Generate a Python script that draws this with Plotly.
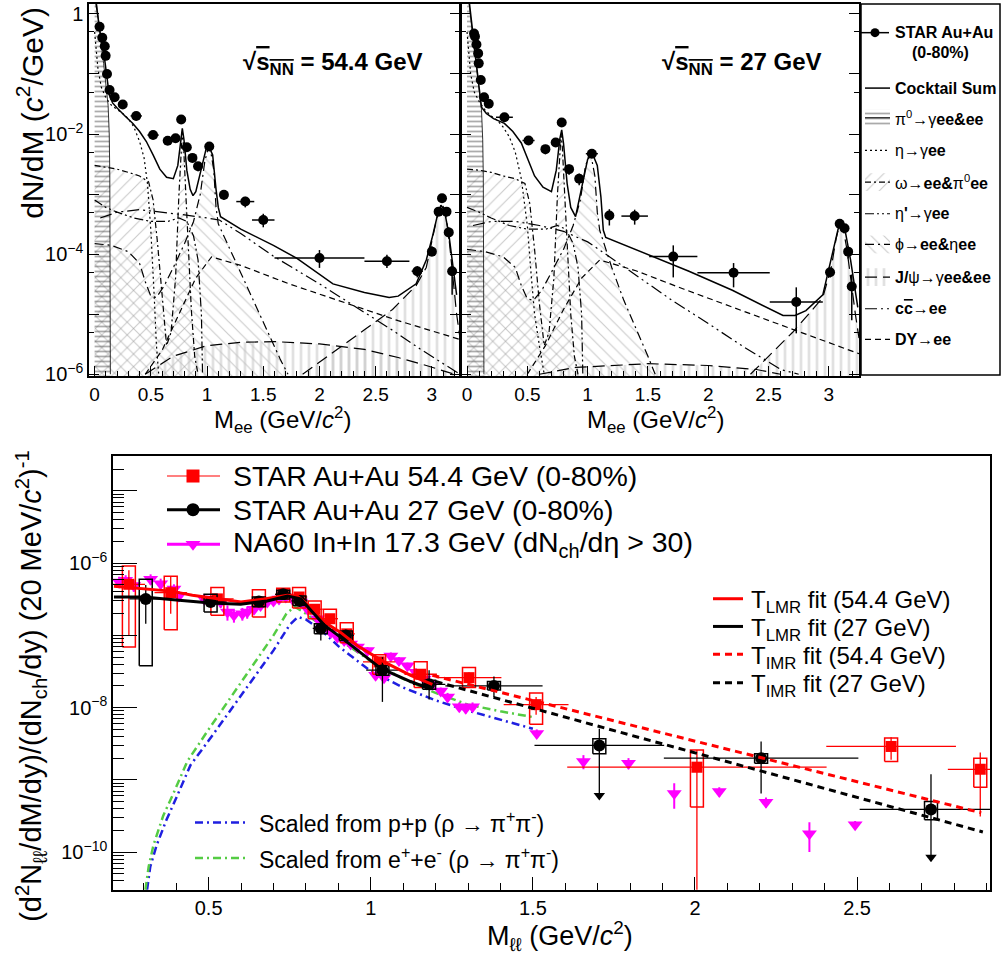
import plotly.graph_objects as go

FONT = "Liberation Sans, Arial, sans-serif"
W, H = 1002, 964

# ======================= TOP PANELS: STAR Au+Au data =======================
m54 = [0.044, 0.068, 0.090, 0.098, 0.110, 0.133, 0.178, 0.25, 0.37, 0.52, 0.65, 0.72, 0.77, 0.82, 0.87, 0.92, 1.02, 1.15, 1.34, 1.50, 2.00, 2.60, 2.87, 3.00, 3.06, 3.09, 3.13, 3.15, 3.18]
y54 = [0.61, 0.40, 0.29, 0.20, 0.10, 0.054, 0.041, 0.031, 0.020, 0.0096, 0.0077, 0.0085, 0.0174, 0.0060, 0.0040, 0.0029, 0.0062, 0.00097, 0.00075, 0.00037, 8.6e-5, 7.6e-5, 5.2e-5, 1.1e-4, 5.1e-4, 8.5e-4, 5.1e-4, 2.3e-4, 5.2e-5]
y54_hi = [0.68, 0.45, 0.33, 0.23, 0.115, 0.062, 0.047, 0.035, 0.023, 0.011, 0.0088, 0.0097, 0.0195, 0.0069, 0.0046, 0.0034, 0.0070, 0.00115, 0.00090, 0.00047, 1.17e-4, 9.8e-5, 6.3e-5, 1.35e-4, 5.8e-4, 9.6e-4, 5.8e-4, 2.8e-4, 6.3e-5]
y54_lo = [0.54, 0.35, 0.25, 0.17, 0.087, 0.046, 0.035, 0.027, 0.017, 0.0082, 0.0066, 0.0073, 0.0155, 0.0051, 0.0034, 0.0024, 0.0054, 0.0008, 0.0006, 0.00028, 5.9e-5, 5.9e-5, 4.1e-5, 9.3e-5, 4.4e-4, 7.5e-4, 4.4e-4, 1.8e-4, 2.1e-5]
xerr54 = [0.005, 0.005, 0.005, 0.005, 0.005, 0.01, 0.02, 0.03, 0.05, 0.05, 0.03, 0.02, 0.015, 0.015, 0.02, 0.02, 0.04, 0.03, 0.08, 0.10, 0.40, 0.20, 0.05, 0.03, 0.015, 0.015, 0.015, 0.015, 0.02]

m27 = [0.058, 0.066, 0.078, 0.092, 0.097, 0.114, 0.141, 0.18, 0.31, 0.51, 0.65, 0.735, 0.785, 0.846, 0.93, 1.035, 1.18, 1.39, 1.71, 2.21, 2.73, 3.01, 3.09, 3.13, 3.16, 3.19]
y27 = [0.47, 0.42, 0.31, 0.22, 0.15, 0.079, 0.041, 0.032, 0.019, 0.0078, 0.0056, 0.0072, 0.0155, 0.0026, 0.0018, 0.0047, 4.4e-4, 4.3e-4, 9.1e-5, 4.9e-5, 1.6e-5, 5.0e-5, 3.2e-4, 2.7e-4, 1.1e-4, 2.9e-5]
y27_hi = [0.53, 0.47, 0.35, 0.25, 0.17, 0.089, 0.046, 0.036, 0.022, 0.0090, 0.0066, 0.0083, 0.0175, 0.0031, 0.0022, 0.0054, 5.6e-4, 5.5e-4, 1.4e-4, 7.1e-5, 2.8e-5, 5.9e-5, 3.7e-4, 3.1e-4, 1.35e-4, 4.6e-5]
y27_lo = [0.42, 0.37, 0.27, 0.19, 0.13, 0.069, 0.036, 0.028, 0.016, 0.0066, 0.0046, 0.0061, 0.0135, 0.0021, 0.0014, 0.0040, 3.0e-4, 3.1e-4, 4.1e-5, 2.8e-5, 4.8e-6, 4.1e-5, 2.7e-4, 2.3e-4, 8.5e-5, 7.9e-6]
xerr27 = [0.005, 0.005, 0.005, 0.005, 0.005, 0.01, 0.01, 0.02, 0.07, 0.05, 0.02, 0.02, 0.015, 0.015, 0.02, 0.05, 0.03, 0.11, 0.20, 0.30, 0.22, 0.02, 0.015, 0.015, 0.015, 0.015]

# Cocktail sums
cs54_m = [0.01, 0.03, 0.06, 0.09, 0.11, 0.13, 0.16, 0.20, 0.27, 0.34, 0.40, 0.46, 0.52, 0.58, 0.64, 0.70, 0.74, 0.765, 0.78, 0.795, 0.82, 0.85, 0.875, 0.90, 0.95, 0.99, 1.02, 1.05, 1.08, 1.10, 1.12, 1.30, 1.59, 1.80, 2.12, 2.40, 2.62, 2.70, 2.86, 2.95, 3.00, 3.05, 3.08, 3.11, 3.15, 3.19, 3.22]
cs54_y = [1.6, 0.8, 0.35, 0.17, 0.09, 0.045, 0.033, 0.027, 0.020, 0.015, 0.011, 0.0075, 0.0045, 0.0026, 0.0019, 0.0018, 0.003, 0.008, 0.0124, 0.008, 0.0025, 0.0012, 0.00094, 0.0011, 0.0028, 0.0055, 0.006, 0.0045, 0.0012, 0.0006, 0.00042, 0.00026, 0.00014, 8.5e-5, 3.2e-5, 2.3e-5, 1.9e-5, 2.0e-5, 3.2e-5, 8e-5, 1.8e-4, 4.5e-4, 6.5e-4, 5.5e-4, 2.2e-4, 5e-5, 2.1e-5]
cs27_m = [0.02, 0.04, 0.07, 0.10, 0.12, 0.16, 0.22, 0.31, 0.38, 0.45, 0.51, 0.56, 0.63, 0.70, 0.74, 0.77, 0.785, 0.80, 0.83, 0.86, 0.90, 0.95, 1.00, 1.04, 1.08, 1.11, 1.13, 1.15, 1.40, 1.84, 2.20, 2.62, 2.72, 2.81, 2.95, 3.03, 3.09, 3.13, 3.18, 3.24]
cs27_y = [1.5, 0.6, 0.2, 0.06, 0.028, 0.022, 0.018, 0.015, 0.011, 0.0071, 0.0035, 0.002, 0.0013, 0.0011, 0.0025, 0.0085, 0.0117, 0.007, 0.0015, 0.0006, 0.00042, 0.0012, 0.0038, 0.0047, 0.003, 0.0009, 0.00025, 0.00019, 1.2e-4, 5.2e-5, 2.5e-5, 9.5e-6, 9.5e-6, 1.15e-5, 2.1e-5, 1.1e-4, 3.4e-4, 2.8e-4, 8e-5, 1.3e-5]

# Cocktail components, 54.4 GeV
pi0_54_m = [0.0, 0.02, 0.04, 0.06, 0.08, 0.10, 0.12, 0.13, 0.135, 0.14]
pi0_54_y = [3.0, 1.3, 0.6, 0.3, 0.15, 0.07, 0.03, 0.01, 0.002, 1e-6]
eta_54_m = [0.0, 0.03, 0.06, 0.10, 0.15, 0.20, 0.25, 0.30, 0.35, 0.40, 0.44, 0.47, 0.50, 0.53, 0.55, 0.57]
eta_54_y = [0.5, 0.12, 0.06, 0.04, 0.03, 0.026, 0.022, 0.018, 0.013, 0.0075, 0.004, 0.0015, 2.5e-4, 2e-5, 3e-6, 1e-6]
omega_54_m = [0.0, 0.10, 0.20, 0.30, 0.40, 0.48, 0.52, 0.56, 0.60, 0.64, 0.68, 0.72, 0.75, 0.77, 0.78, 0.79, 0.81, 0.83, 0.86, 0.89, 0.92]
omega_54_y = [3e-3, 2.8e-3, 2.6e-3, 2.3e-3, 2.0e-3, 1.6e-3, 8e-4, 1.5e-4, 2e-5, 3e-6, 5e-6, 4e-5, 1e-3, 7e-3, 1.1e-2, 7e-3, 1.2e-3, 1.5e-4, 1.2e-5, 2e-6, 1e-6]
etap_54_m = [0.0, 0.10, 0.20, 0.35, 0.50, 0.65, 0.75, 0.82, 0.88, 0.92, 0.95, 0.96]
etap_54_y = [8e-4, 6e-4, 5e-4, 4e-4, 3.5e-4, 3.5e-4, 4e-4, 3.5e-4, 2e-4, 8e-5, 1e-5, 1e-6]
phi_54_m = [0.0, 0.15, 0.30, 0.40, 0.45, 0.50, 0.55, 0.62, 0.70, 0.80, 0.88, 0.94, 0.98, 1.01, 1.02, 1.03, 1.06, 1.08, 1.10, 1.20, 1.35, 1.50, 1.65, 1.72]
phi_54_y = [1.5e-4, 1.4e-4, 1.1e-4, 7e-5, 3.5e-5, 2e-5, 1.9e-5, 3e-5, 6e-5, 1.5e-4, 3.5e-4, 1e-3, 3.5e-3, 5.8e-3, 6e-3, 5.5e-3, 2.5e-3, 6e-4, 3.2e-4, 1.25e-4, 3e-5, 7.4e-6, 1.8e-6, 1e-6]
jpsi_54_m = [1.85, 2.10, 2.40, 2.65, 2.86, 2.95, 3.00, 3.05, 3.09, 3.12, 3.15, 3.18, 3.22, 3.25]
jpsi_54_y = [1e-6, 2.2e-6, 5.5e-6, 1.2e-5, 3e-5, 6e-5, 1.6e-4, 4.5e-4, 7e-4, 5e-4, 2e-4, 5e-5, 1e-5, 4e-6]
jrad_54_m = [0.45, 0.70, 1.00, 1.30, 1.60, 2.00, 2.40, 2.70, 2.95, 3.20]
jrad_54_y = [1e-6, 2e-6, 3e-6, 3.4e-6, 3.5e-6, 3.2e-6, 2.6e-6, 1.9e-6, 1.4e-6, 1e-6]
cc_54_m = [0.05, 0.20, 0.40, 0.60, 0.80, 1.00, 1.11, 1.30, 1.60, 2.00, 2.30, 2.65, 2.90, 3.10, 3.25]
cc_54_y = [4e-4, 5e-4, 5.5e-4, 5e-4, 4.5e-4, 4e-4, 3.7e-4, 2.2e-4, 9e-5, 3.2e-5, 1.4e-5, 5.4e-6, 2.6e-6, 1.5e-6, 1e-6]
dy_54_m = [0.45, 0.60, 0.75, 0.90, 1.04, 1.30, 1.73, 2.20, 2.70, 3.25]
dy_54_y = [1e-6, 2.5e-6, 1e-5, 4e-5, 9e-5, 6.5e-5, 3.2e-5, 1.6e-5, 7.8e-6, 3.8e-6]

# Cocktail components, 27 GeV
pi0_27_m = [0.0, 0.02, 0.04, 0.06, 0.08, 0.10, 0.12, 0.13, 0.135, 0.14]
pi0_27_y = [3.0, 1.2, 0.5, 0.25, 0.12, 0.06, 0.025, 0.008, 0.002, 1e-6]
eta_27_m = [0.0, 0.03, 0.06, 0.10, 0.15, 0.20, 0.25, 0.30, 0.35, 0.40, 0.45, 0.50, 0.53, 0.56, 0.60, 0.64]
eta_27_y = [0.5, 0.1, 0.05, 0.035, 0.025, 0.02, 0.017, 0.013, 0.009, 0.005, 0.0018, 3e-4, 5e-5, 1e-5, 3e-6, 1e-6]
omega_27_m = [0.0, 0.10, 0.20, 0.30, 0.40, 0.48, 0.52, 0.56, 0.60, 0.64, 0.68, 0.72, 0.75, 0.77, 0.78, 0.79, 0.81, 0.83, 0.86, 0.89, 0.92]
omega_27_y = [2.6e-3, 2.5e-3, 2.3e-3, 2.0e-3, 1.8e-3, 1.5e-3, 7e-4, 1.2e-4, 1.5e-5, 3e-6, 5e-6, 4e-5, 1e-3, 6e-3, 1.0e-2, 6e-3, 1e-3, 1.2e-4, 1e-5, 2e-6, 1e-6]
etap_27_m = [0.0, 0.10, 0.20, 0.35, 0.50, 0.65, 0.75, 0.82, 0.88, 0.92, 0.95, 0.96]
etap_27_y = [6e-4, 5e-4, 4e-4, 3e-4, 2.6e-4, 2.6e-4, 3e-4, 2.6e-4, 1.5e-4, 6e-5, 1e-5, 1e-6]
phi_27_m = [0.0, 0.15, 0.30, 0.40, 0.45, 0.50, 0.55, 0.62, 0.70, 0.80, 0.88, 0.94, 0.98, 1.01, 1.02, 1.03, 1.06, 1.08, 1.10, 1.20, 1.30, 1.40, 1.50, 1.56]
phi_27_y = [1.2e-4, 1.1e-4, 9e-5, 6e-5, 3e-5, 1.8e-5, 1.7e-5, 2.5e-5, 5e-5, 1.2e-4, 3e-4, 8e-4, 2.8e-3, 4.4e-3, 4.6e-3, 4.2e-3, 2e-3, 5e-4, 2.5e-4, 6e-5, 1.7e-5, 6e-6, 2e-6, 1e-6]
jpsi_27_m = [2.35, 2.50, 2.70, 2.85, 2.95, 3.02, 3.06, 3.09, 3.12, 3.15, 3.18, 3.22, 3.25]
jpsi_27_y = [1e-6, 2e-6, 5e-6, 1.1e-5, 1.9e-5, 6e-5, 1.8e-4, 3.2e-4, 2.6e-4, 1.2e-4, 4e-5, 1e-5, 4e-6]
jrad_27_m = [0.60, 0.90, 1.50, 2.00, 2.40, 2.60]
jrad_27_y = [1e-6, 1.3e-6, 1.5e-6, 1.4e-6, 1.2e-6, 1e-6]
cc_27_m = [0.05, 0.20, 0.40, 0.60, 0.80, 1.00, 1.12, 1.40, 1.70, 2.00, 2.30, 2.48, 2.60, 2.75]
cc_27_y = [3e-4, 3.5e-4, 3.5e-4, 3e-4, 2.4e-4, 1.6e-4, 1.1e-4, 4.5e-5, 1.7e-5, 7e-6, 2.8e-6, 1.7e-6, 1.2e-6, 1e-6]
dy_27_m = [0.50, 0.65, 0.80, 0.95, 1.10, 1.40, 1.80, 2.20, 2.70, 3.25]
dy_27_y = [1e-6, 3e-6, 1.2e-5, 4e-5, 8e-5, 5.3e-5, 2.6e-5, 1.3e-5, 5.6e-6, 2.2e-6]

# ======================= BOTTOM PANEL =======================
r_m = [0.254, 0.383, 0.527, 0.655, 0.730, 0.779, 0.827, 0.874, 0.926, 1.026, 1.154, 1.303, 1.510, 2.006, 2.605, 2.880]
r_y = [5.1e-7, 3.9e-7, 3.2e-7, 2.9e-7, 3.7e-7, 3.4e-7, 2.3e-7, 1.7e-7, 1.05e-7, 4.3e-8, 2.9e-8, 2.6e-8, 1.1e-8, 1.5e-9, 2.9e-9, 1.4e-9]
r_stat_hi = [8.0e-7, 6.6e-7, 3.5e-7, 3.2e-7, 4.0e-7, 3.7e-7, 2.6e-7, 1.9e-7, 1.2e-7, 5.0e-8, 3.4e-8, 3.1e-8, 1.4e-8, 2.6e-9, 3.9e-9, 2.4e-9]
r_stat_lo = [1.0e-7, 2.0e-7, 2.9e-7, 2.6e-7, 3.4e-7, 3.1e-7, 2.0e-7, 1.5e-7, 9.0e-8, 3.6e-8, 2.4e-8, 2.1e-8, 8.0e-9, 1e-11, 1.9e-9, 3.1e-10]
r_sys_hi = [9.1e-7, 6.6e-7, 4.6e-7, 4.3e-7, 4.5e-7, 4.6e-7, 3.0e-7, 2.3e-7, 1.5e-7, 5.4e-8, 4.3e-8, 3.6e-8, 1.6e-8, 2.6e-9, 3.8e-9, 2.0e-9]
r_sys_lo = [6.9e-8, 1.2e-7, 1.9e-7, 1.8e-7, 2.9e-7, 2.4e-7, 1.7e-7, 1.2e-7, 7.9e-8, 2.9e-8, 1.9e-8, 1.9e-8, 5.9e-9, 4.2e-10, 1.8e-9, 7.9e-10]
r_xerr = [0.05, 0.05, 0.05, 0.025, 0.025, 0.025, 0.025, 0.025, 0.025, 0.05, 0.05, 0.10, 0.10, 0.40, 0.20, 0.10]

b_m = [0.306, 0.506, 0.655, 0.730, 0.780, 0.846, 0.923, 1.036, 1.180, 1.380, 1.705, 2.204, 2.728]
b_y = [3.2e-7, 2.9e-7, 2.95e-7, 3.7e-7, 3.0e-7, 1.25e-7, 1.0e-7, 3.3e-8, 2.1e-8, 2.0e-8, 3.0e-9, 2.0e-9, 3.9e-10]
b_stat_hi = [5.0e-7, 3.2e-7, 3.2e-7, 4.0e-7, 3.3e-7, 1.5e-7, 1.2e-7, 5.0e-8, 3.3e-8, 2.7e-8, 5.1e-9, 3.4e-9, 1.2e-9]
b_stat_lo = [1.45e-7, 2.6e-7, 2.7e-7, 3.4e-7, 2.7e-7, 8.5e-8, 8.0e-8, 1.2e-8, 1.3e-8, 1.4e-8, 3.0e-9, 6.5e-10, 3.9e-10]
b_sys_hi = [6.0e-7, 3.7e-7, 3.4e-7, 4.2e-7, 3.5e-7, 1.45e-7, 1.15e-7, 3.8e-8, 2.4e-8, 2.3e-8, 3.7e-9, 2.3e-9, 5.0e-10]
b_sys_lo = [3.8e-8, 2.1e-7, 2.5e-7, 3.2e-7, 2.6e-7, 1.05e-7, 8.5e-8, 2.8e-8, 1.8e-8, 1.75e-8, 2.3e-9, 1.7e-9, 2.8e-10]
b_xerr = [0.05, 0.05, 0.025, 0.025, 0.025, 0.025, 0.025, 0.05, 0.05, 0.15, 0.20, 0.30, 0.22]
ul_m = [1.705, 2.728]
ul_tip = [6.1e-10, 8.5e-11]

na60_m = [0.224, 0.244, 0.269, 0.321, 0.352, 0.393, 0.408, 0.486, 0.537, 0.558, 0.578, 0.604, 0.619, 0.640, 0.660, 0.681, 0.700, 0.717, 0.738, 0.758, 0.784, 0.805, 0.836, 0.856, 0.877, 0.897, 0.918, 0.938, 0.959, 0.990, 1.015, 1.041, 1.062, 1.087, 1.113, 1.139, 1.165, 1.190, 1.216, 1.237, 1.273, 1.293, 1.314, 1.512, 1.656, 1.795, 1.936, 2.075, 2.219, 2.353, 2.494]
na60_y = [5.5e-7, 5.8e-7, 4.9e-7, 6.0e-7, 5.2e-7, 4.4e-7, 3.5e-7, 3.2e-7, 2.9e-7, 2.1e-7, 1.9e-7, 2.0e-7, 2.1e-7, 2.3e-7, 2.6e-7, 2.9e-7, 3.0e-7, 3.2e-7, 3.4e-7, 3.2e-7, 2.9e-7, 2.3e-7, 1.7e-7, 1.4e-7, 1.1e-7, 9.4e-8, 8.5e-8, 7.6e-8, 6.9e-8, 6.2e-8, 2.8e-8, 2.6e-8, 5.2e-8, 4.5e-8, 3.8e-8, 3.1e-8, 2.5e-8, 2.1e-8, 1.7e-8, 1.4e-8, 1.03e-8, 9.8e-9, 1.03e-8, 4.4e-9, 1.8e-9, 1.7e-9, 6.5e-10, 6.9e-10, 4.9e-10, 1.8e-10, 2.4e-10]
na60_err = [1.0e-7, 1.0e-7, 0.9e-7, 1.0e-7, 0.9e-7, 0.7e-7, 0.6e-7, 0.5e-7, 0.5e-7, 0.5e-7, 0.4e-7, 0.4e-7, 0.4e-7, 0.3e-7, 0.3e-7, 0.3e-7, 0.3e-7, 0.3e-7, 0.3e-7, 0.3e-7, 0.3e-7, 0.2e-7, 0.2e-7, 1.5e-8, 1.2e-8, 1.0e-8, 0.9e-8, 0.8e-8, 0.8e-8, 0.7e-8, 0.4e-8, 0.4e-8, 0.6e-8, 0.5e-8, 0.4e-8, 0.4e-8, 0.3e-8, 0.3e-8, 0.2e-8, 0.2e-8, 1.5e-9, 1.5e-9, 1.5e-9, 0.6e-9, 0.4e-9, 0.3e-9, 2.5e-10, 1.0e-10, 0.8e-10, 0.8e-10, 0.3e-10]

tl54_m = [0.208, 0.30, 0.383, 0.45, 0.527, 0.60, 0.671, 0.743, 0.774, 0.80, 0.836, 0.87, 0.907, 0.959, 1.041, 1.123, 1.19]
tl54_y = [4.8e-7, 4.4e-7, 4.1e-7, 3.6e-7, 3.2e-7, 2.9e-7, 3.2e-7, 3.6e-7, 3.5e-7, 2.8e-7, 1.9e-7, 1.4e-7, 1.1e-7, 7.2e-8, 4.3e-8, 2.8e-8, 2.1e-8]
tl27_m = [0.208, 0.30, 0.40, 0.506, 0.599, 0.681, 0.743, 0.784, 0.82, 0.856, 0.928, 1.031, 1.123, 1.185]
tl27_y = [3.4e-7, 3.4e-7, 3.1e-7, 2.8e-7, 2.7e-7, 3.0e-7, 3.5e-7, 3.2e-7, 2.1e-7, 1.4e-7, 8e-8, 3.5e-8, 2.3e-8, 1.8e-8]
ti54_m = [1.19, 2.883]
ti54_y = [2.8e-8, 3.5e-10]
ti27_m = [1.20, 2.888]
ti27_y = [2.3e-8, 1.9e-10]

pp_m = [0.31, 0.32, 0.34, 0.37, 0.40, 0.444, 0.50, 0.60, 0.70, 0.75, 0.775, 0.80, 0.85, 0.90, 1.00, 1.10, 1.20, 1.30, 1.40, 1.50]
pp_y = [3.0e-11, 6.3e-11, 1.26e-10, 2.8e-10, 5.6e-10, 1.6e-9, 3.5e-9, 1.5e-8, 6.2e-8, 1.4e-7, 1.8e-7, 1.66e-7, 1.15e-7, 7.1e-8, 3.2e-8, 1.9e-8, 1.26e-8, 9.1e-9, 6.8e-9, 5.1e-9]
ee_m = [0.305, 0.315, 0.33, 0.36, 0.39, 0.434, 0.50, 0.60, 0.70, 0.74, 0.765, 0.80, 0.85, 0.90, 1.00, 1.10, 1.20, 1.30, 1.40, 1.50]
ee_y = [3.0e-11, 6.3e-11, 1.26e-10, 3.2e-10, 6.3e-10, 1.8e-9, 5.0e-9, 2.2e-8, 1.0e-7, 2.0e-7, 2.5e-7, 2.0e-7, 1.35e-7, 8.9e-8, 4.4e-8, 2.5e-8, 1.6e-8, 1.1e-8, 8.9e-9, 7.4e-9]

fig = go.Figure()

def add(tr):
    tr.showlegend = False
    fig.add_trace(tr)

PAT = dict(
    pi0=dict(shape='-', fgcolor='#555555', size=5, solidity=0.35),
    omega=dict(shape='/', fgcolor='#999999', size=9, solidity=0.13),
    phi=dict(shape='\\', fgcolor='#999999', size=9, solidity=0.13),
    jpsi=dict(shape='|', fgcolor='#c4c4c4', size=8, solidity=0.35),
)
DASH = dict(eta='2px,3px', omega='6px,3px,2px,3px', etap='9px,3px,2px,3px,2px,3px',
            phi='9px,4px,2px,4px', jpsi='12px,6px', cc='12px,4px,2px,4px,2px,4px', dy='6px,4px')

def band(xa, ya, m, y, pat):
    add(go.Scatter(x=list(m) + list(m[::-1]), y=list(y) + [1e-7] * len(m), mode='none', fill='toself',
                   fillcolor='rgba(0,0,0,0)',
                   fillpattern=dict(fillmode='overlay', bgcolor='rgba(0,0,0,0)', **pat),
                   xaxis=xa, yaxis=ya, hoverinfo='skip'))

def curve(xa, ya, m, y, dash, width=1.2):
    add(go.Scatter(x=m, y=y, mode='lines', line=dict(color='black', width=width, dash=dash),
                   xaxis=xa, yaxis=ya, hoverinfo='skip'))

panels = [
    ('x', 'y', pi0_54_m, pi0_54_y, eta_54_m, eta_54_y, omega_54_m, omega_54_y, etap_54_m, etap_54_y,
     phi_54_m, phi_54_y, jpsi_54_m, jpsi_54_y, jrad_54_m, jrad_54_y, cc_54_m, cc_54_y, dy_54_m, dy_54_y,
     cs54_m, cs54_y, m54, y54, y54_hi, y54_lo, xerr54),
    ('x2', 'y2', pi0_27_m, pi0_27_y, eta_27_m, eta_27_y, omega_27_m, omega_27_y, etap_27_m, etap_27_y,
     phi_27_m, phi_27_y, jpsi_27_m, jpsi_27_y, jrad_27_m, jrad_27_y, cc_27_m, cc_27_y, dy_27_m, dy_27_y,
     cs27_m, cs27_y, m27, y27, y27_hi, y27_lo, xerr27),
]
for (xa, ya, pm, py, em, ey, om, oy, epm, epy, fm, fy, jm, jy, jrm, jry, cm, cy, dm, dyy,
     sm, sy, dmx, dvy, dhi, dlo, dxe) in panels:
    band(xa, ya, om, oy, PAT['omega'])
    band(xa, ya, fm, fy, PAT['phi'])
    band(xa, ya, jm, jy, PAT['jpsi'])
    band(xa, ya, jrm, jry, PAT['jpsi'])
    band(xa, ya, pm, py, PAT['pi0'])
    curve(xa, ya, pm, py, None, 0.8)
    curve(xa, ya, em, ey, DASH['eta'])
    curve(xa, ya, om, oy, DASH['omega'])
    curve(xa, ya, epm, epy, DASH['etap'])
    curve(xa, ya, fm, fy, DASH['phi'])
    curve(xa, ya, jm, jy, DASH['jpsi'])
    curve(xa, ya, jrm, jry, DASH['jpsi'])
    curve(xa, ya, cm, cy, DASH['cc'])
    curve(xa, ya, dm, dyy, DASH['dy'])
    curve(xa, ya, sm, sy, None, 1.5)
    add(go.Scatter(x=dmx, y=dvy, mode='markers',
                   marker=dict(symbol='circle', size=10, color='black'),
                   error_x=dict(type='data', array=dxe, color='black', thickness=1.5, width=0),
                   error_y=dict(type='data', symmetric=False,
                                array=[h - v for h, v in zip(dhi, dvy)],
                                arrayminus=[v - l for v, l in zip(dvy, dlo)],
                                color='black', thickness=1.5, width=0),
                   xaxis=xa, yaxis=ya))

# ---------------- bottom panel traces ----------------
XB, YB = 'x3', 'y3'
curve(XB, YB, pp_m, pp_y, None)
fig.data[-1].line.update(color='#1f1fe0', width=2.5, dash='8px,4px,2px,4px')
curve(XB, YB, ee_m, ee_y, None)
fig.data[-1].line.update(color='#55cc44', width=2.5, dash='8px,4px,2px,4px')

def boxes(m, lo, hi, w, color, width):
    xs, ys = [], []
    for mm, l, h in zip(m, lo, hi):
        xs += [mm - w, mm + w, mm + w, mm - w, mm - w, None]
        ys += [l, l, h, h, l, None]
    add(go.Scatter(x=xs, y=ys, mode='lines', line=dict(color=color, width=width),
                   xaxis=XB, yaxis=YB, hoverinfo='skip'))

# NA60
add(go.Scatter(x=na60_m, y=na60_y, mode='markers',
               marker=dict(symbol='triangle-down', size=13, color='#ff00ff'),
               error_y=dict(type='data', array=na60_err, color='#ff00ff', thickness=2, width=0),
               xaxis=XB, yaxis=YB))

# red 54.4
boxes(r_m, r_sys_lo, r_sys_hi, 0.02, '#ff0000', 1.5)
add(go.Scatter(x=r_m, y=r_y, mode='markers',
               marker=dict(symbol='square', size=11, color='#ff0000'),
               error_x=dict(type='data', array=r_xerr, color='#ff0000', thickness=1.3, width=0),
               error_y=dict(type='data', symmetric=False,
                            array=[h - v for h, v in zip(r_stat_hi, r_y)],
                            arrayminus=[v - l for v, l in zip(r_y, r_stat_lo)],
                            color='#ff0000', thickness=1.3, width=0),
               xaxis=XB, yaxis=YB))
# black 27
boxes(b_m, b_sys_lo, b_sys_hi, 0.02, '#000000', 1.5)
add(go.Scatter(x=b_m, y=b_y, mode='markers',
               marker=dict(symbol='circle', size=12, color='black'),
               error_x=dict(type='data', array=b_xerr, color='black', thickness=1.3, width=0),
               error_y=dict(type='data', symmetric=False,
                            array=[h - v for h, v in zip(b_stat_hi, b_y)],
                            arrayminus=[v - l for v, l in zip(b_y, b_stat_lo)],
                            color='black', thickness=1.3, width=0),
               xaxis=XB, yaxis=YB))
# upper-limit arrows
ax_, ay_ = [], []
for mm, t, v in zip(ul_m, ul_tip, [b_y[b_m.index(u)] for u in ul_m]):
    ax_ += [mm, mm, None]
    ay_ += [v, t, None]
add(go.Scatter(x=ax_, y=ay_, mode='lines', line=dict(color='black', width=1.3), xaxis=XB, yaxis=YB))
add(go.Scatter(x=ul_m, y=ul_tip, mode='markers', marker=dict(symbol='triangle-down', size=10, color='black'),
               xaxis=XB, yaxis=YB))

# fits
curve(XB, YB, tl54_m, tl54_y, None)
fig.data[-1].line.update(color='#ff0000', width=3)
curve(XB, YB, tl27_m, tl27_y, None)
fig.data[-1].line.update(color='#000000', width=3)
curve(XB, YB, ti54_m, ti54_y, None)
fig.data[-1].line.update(color='#ff0000', width=3, dash='7px,5px')
curve(XB, YB, ti27_m, ti27_y, None)
fig.data[-1].line.update(color='#000000', width=3, dash='7px,5px')

# ---------------- legends (pixel-coordinate overlay axes x4/y4) ----------------
XP, YP = 'x4', 'y4'
ann = []

def ptext(x, y, text, size, bold=False, xanchor='left', color='black', angle=0, yanchor='middle'):
    ann.append(dict(x=x, y=y, xref=XP, yref=YP, text=text, showarrow=False, xanchor=xanchor,
                    yanchor=yanchor, textangle=angle,
                    font=dict(family=FONT, size=size, color=color, weight='bold' if bold else 'normal')))

def pline(x0, x1, y, color='black', width=1.5, dash=None):
    add(go.Scatter(x=[x0, x1], y=[y, y], mode='lines', line=dict(color=color, width=width, dash=dash),
                   xaxis=XP, yaxis=YP, hoverinfo='skip'))

def ppatch(x0, x1, y0, y1, pat):
    add(go.Scatter(x=[x0, x1, x1, x0, x0], y=[y0, y0, y1, y1, y0], mode='none', fill='toself',
                   fillcolor='rgba(0,0,0,0)',
                   fillpattern=dict(fillmode='overlay', bgcolor='rgba(0,0,0,0)', **pat),
                   xaxis=XP, yaxis=YP, hoverinfo='skip'))

# top-right legend box
LX0, LX1 = 865, 890
LF = 16
pline(861, 889, 32, width=1.5)
add(go.Scatter(x=[875], y=[32], mode='markers', marker=dict(symbol='circle', size=9, color='black'),
               xaxis=XP, yaxis=YP))
ptext(893, 32, 'STAR Au+Au', LF, True)
ptext(940, 52, '(0-80%)', LF, True, 'center')
pline(LX0, LX1, 88, width=1.5)
ptext(893, 88, 'Cocktail Sum', LF, True)
ppatch(LX0, LX1, 110, 126, PAT['pi0'])
pline(LX0, LX1, 118, width=1.0)
ptext(893, 118, 'π<sup>0</sup>→γ<b>ee&amp;ee</b>', LF)
pline(LX0, LX1, 151, dash=DASH['eta'], width=1.2)
ptext(893, 151, 'η→γ<b>ee</b>', LF)
ppatch(LX0, LX1, 174, 192, PAT['omega'])
pline(LX0, LX1, 183, dash=DASH['omega'], width=1.2)
ptext(893, 183, 'ω→<b>ee&amp;</b>π<sup>0</sup><b>ee</b>', LF)
pline(LX0, LX1, 215, dash=DASH['etap'], width=1.2)
ptext(893, 215, "η<b>'</b>→γ<b>ee</b>", LF)
ppatch(LX0, LX1, 237, 255, PAT['phi'])
pline(LX0, LX1, 246, dash=DASH['phi'], width=1.2)
ptext(893, 246, 'ϕ→<b>ee&amp;</b>η<b>ee</b>', LF)
ppatch(LX0, LX1, 270, 288, PAT['jpsi'])
pline(LX0, LX1, 279, dash=DASH['jpsi'], width=1.2)
ptext(893, 279, '<b>J/</b>ψ→γ<b>ee&amp;ee</b>', LF)
pline(LX0, LX1, 311, dash=DASH['cc'], width=1.2)
ptext(893, 311, '<b>c</b><span style="text-decoration:overline"><b>c</b></span>→<b>ee</b>', LF)
pline(LX0, LX1, 342, dash=DASH['dy'], width=1.2)
ptext(893, 342, '<b>DY</b>→<b>ee</b>', LF)

# energy labels
ptext(241, 63, '√<span style="text-decoration:overline">s<sub>NN</sub></span> = 54.4 GeV', 24, True)
ptext(660, 63, '√<span style="text-decoration:overline">s<sub>NN</sub></span> = 27 GeV', 24, True)

# bottom legends
L1 = [(480, '#ff0000', 1.2, 'square', 'STAR Au+Au 54.4 GeV (0-80%)'),
      (514, '#000000', 3, 'circle', 'STAR Au+Au 27 GeV (0-80%)'),
      (549, '#ff00ff', 3, 'triangle-down', 'NA60 In+In 17.3 GeV (dN<sub>ch</sub>/dη > 30)')]
for yy, col, lw, sym, txt in L1:
    pline(167, 220, yy, color=col, width=lw)
    add(go.Scatter(x=[193], y=[yy], mode='markers', marker=dict(symbol=sym, size=13, color=col),
                   xaxis=XP, yaxis=YP))
    ptext(231, yy, txt, 28.5)

L2 = [(607, '#ff0000', None, 'T<sub>LMR</sub> fit (54.4 GeV)'),
      (635, '#000000', None, 'T<sub>LMR</sub> fit (27 GeV)'),
      (663, '#ff0000', '7px,5px', 'T<sub>IMR</sub> fit (54.4 GeV)'),
      (692, '#000000', '7px,5px', 'T<sub>IMR</sub> fit (27 GeV)')]
for yy, col, dsh, txt in L2:
    pline(713, 743, yy - 3, color=col, width=3, dash=dsh)
    ptext(749, yy, txt, 24)

pline(195, 245, 830, color='#1f1fe0', width=2.5, dash='8px,4px,2px,4px')
ptext(257, 830, 'Scaled from p+p (ρ → π<sup>+</sup>π<sup>-</sup>)', 23)
pline(195, 245, 866, color='#55cc44', width=2.5, dash='8px,4px,2px,4px')
ptext(257, 866, 'Scaled from e<sup>+</sup>+e<sup>-</sup> (ρ → π<sup>+</sup>π<sup>-</sup>)', 23)

# axis titles
ptext(30, 113, 'dN/dM (<i>c</i><sup>2</sup>/GeV)', 30, angle=-90, xanchor='center')
ptext(282, 423, 'M<sub>ee</sub> (GeV/<i>c</i><sup>2</sup>)', 24, xanchor='center')
ptext(655, 423, 'M<sub>ee</sub> (GeV/<i>c</i><sup>2</sup>)', 24, xanchor='center')
ptext(31, 692, '(d<sup>2</sup>N<sub>ℓℓ</sub>/dM/dy)/(dN<sub>ch</sub>/dy) (20 MeV/<i>c</i><sup>2</sup>)<sup>-1</sup>', 29,
      angle=-90, xanchor='center')
ptext(560, 945, 'M<sub>ℓℓ</sub> (GeV/<i>c</i><sup>2</sup>)', 27, xanchor='center')

# legend frame (top right)
shapes = [dict(type='rect', xref=XP, yref=YP, x0=861, x1=1000, y0=3, y1=378,
               line=dict(color='black', width=1.5))]

# ---------------- axes ----------------
def dom_x(a, b):
    return [a / W, b / W]

def dom_y(top, bot):
    return [1 - bot / H, 1 - top / H]

top_ytv = [1e-6, 1e-5, 1e-4, 1e-3, 1e-2, 1e-1, 1]
top_ytt = ['10<sup>−6</sup>', '', '10<sup>−4</sup>', '', '10<sup>−2</sup>', '', '1']
top_minor = [5e-7, 5e-6, 5e-5, 5e-4, 5e-3, 5e-2, 0.5]
bot_ytv = [1e-10, 1e-9, 1e-8, 1e-7, 1e-6, 1e-5]
bot_ytt = ['10<sup>−10</sup>', '', '10<sup>−8</sup>', '', '10<sup>−6</sup>', '']
bot_minor = [k * 10.0 ** e for e in range(-11, -4) for k in range(2, 10)]

axis_common = dict(showgrid=False, zeroline=False, linecolor='black', linewidth=1.5,
                   ticks='inside', tickcolor='black', tickwidth=1.2)
TF20 = dict(family=FONT, size=20, color='black')
TF19 = dict(family=FONT, size=19, color='black')

top_x = dict(range=[-0.05, 3.25], tickvals=[0, 0.5, 1, 1.5, 2, 2.5, 3],
             ticktext=['0', '0.5', '1', '1.5', '2', '2.5', '3'], ticklen=10, mirror=True,
             tickfont=TF19,
             minor=dict(tickmode='array', tickvals=[i / 10 for i in range(0, 33)], ticks='inside', ticklen=5,
                        tickcolor='black'), **axis_common)
top_y = dict(type='log', range=[-6.03, 0.165], tickmode='array', tickvals=top_ytv, ticktext=top_ytt,
             ticklen=10, mirror='ticks', tickfont=TF20,
             minor=dict(tickmode='array', tickvals=top_minor, ticks='inside', ticklen=5, tickcolor='black'),
             **axis_common)

fig.update_layout(
    width=W, height=H, margin=dict(l=0, r=0, t=0, b=0),
    paper_bgcolor='white', plot_bgcolor='rgba(0,0,0,0)',
    showlegend=False,
    xaxis=dict(domain=dom_x(89, 460), anchor='y', **top_x),
    yaxis=dict(domain=dom_y(3, 379), anchor='x', **top_y),
    xaxis2=dict(domain=dom_x(461, 859), anchor='y2', **top_x),
    yaxis2=dict(domain=dom_y(3, 379), anchor='x2', showticklabels=False, **top_y),
    xaxis3=dict(domain=dom_x(113, 990), anchor='y3', range=[0.205, 2.91],
                tickvals=[0.5, 1, 1.5, 2, 2.5], ticktext=['0.5', '1', '1.5', '2', '2.5'],
                ticklen=13, mirror=True, tickfont=TF20,
                minor=dict(tickmode='array', tickvals=[i / 10 for i in range(3, 30)], ticks='inside',
                           ticklen=7, tickcolor='black'), **axis_common),
    yaxis3=dict(domain=dom_y(460, 898), anchor='x3', type='log', range=[-10.52, -4.52],
                tickmode='array', tickvals=bot_ytv, ticktext=bot_ytt, ticklen=24, mirror=True,
                tickfont=TF20,
                minor=dict(tickmode='array', tickvals=bot_minor, ticks='inside', ticklen=11,
                           tickcolor='black'), **axis_common),
    xaxis4=dict(domain=[0, 1], range=[0, W], visible=False, anchor='y4'),
    yaxis4=dict(domain=[0, 1], range=[H, 0], visible=False, anchor='x4'),
    annotations=ann, shapes=shapes,
)

fig.write_html("out.html")
